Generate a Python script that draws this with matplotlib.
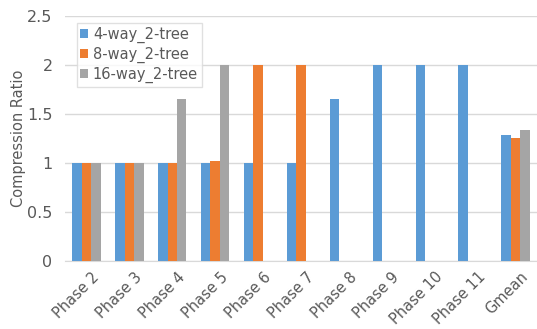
import numpy as np
import matplotlib.pyplot as plt
import matplotlib.transforms as mtransforms

plt.rcParams['font.family'] = ['DejaVu Sans']

phases = ['Phase 2', 'Phase 3', 'Phase 4', 'Phase 5', 'Phase 6', 'Phase 7',
          'Phase 8', 'Phase 9', 'Phase 10', 'Phase 11', 'Gmean']
way4 = [1, 1, 1, 1, 1, 1, 1.65, 2, 2, 2, 1.29]
way8 = [1, 1, 1, 1.02, 2, 2, 0, 0, 0, 0, 1.26]
way16 = [1, 1, 1.65, 2, 0, 0, 0, 0, 0, 0, 1.34]
series_names = ['4-way_2-tree', '8-way_2-tree', '16-way_2-tree']
colors = ['#5B9BD5', '#ED7D31', '#A5A5A5']

fig = plt.figure(figsize=(5.37, 3.29), dpi=100)
ax = fig.add_axes([65/537, 68/329, 472/537, 245/329])

x = np.arange(len(phases))
w = 0.22
for i, (vals, name, c) in enumerate(zip([way4, way8, way16], series_names, colors)):
    ax.bar(x + (i - 1) * w, vals, w, color=c, label=name, zorder=3)

ax.set_xlim(-0.5, len(phases) - 0.5)
ax.set_ylim(0, 2.5)
ax.set_yticks([0, 0.5, 1, 1.5, 2, 2.5])
ax.set_yticklabels(['0', '0.5', '1', '1.5', '2', '2.5'])
ax.yaxis.grid(True, color='#D9D9D9', linewidth=1, zorder=0)
ax.set_xticks(x)
ax.set_xticklabels(phases, rotation=45, ha='right', rotation_mode='anchor')
ax.tick_params(axis='both', length=0, colors='#595959')
ax.tick_params(axis='x', pad=6, labelsize=10.5)
ax.tick_params(axis='y', pad=9, labelsize=11.5)
# nudge the slanted labels a little to the right of their ticks
shift = mtransforms.ScaledTranslation(5/100, 0, fig.dpi_scale_trans)
for lab in ax.get_xticklabels():
    lab.set_transform(lab.get_transform() + shift)
for s in ['top', 'right', 'left']:
    ax.spines[s].set_visible(False)
ax.spines['bottom'].set_color('#D9D9D9')
ax.set_ylabel('Compression Ratio', fontsize=10.5, color='#595959')
ax.yaxis.set_label_coords(-0.083, 0.5)

leg = ax.legend(loc='upper left', bbox_to_anchor=(0.025, 0.97), fontsize=10.5,
                handlelength=0.55, handleheight=0.55, handletextpad=0.3,
                borderpad=0.25, labelspacing=0.25, fancybox=False,
                labelcolor='#595959', borderaxespad=0)
leg.get_frame().set_edgecolor('#D9D9D9')

fig.savefig('out.png', dpi=100)
